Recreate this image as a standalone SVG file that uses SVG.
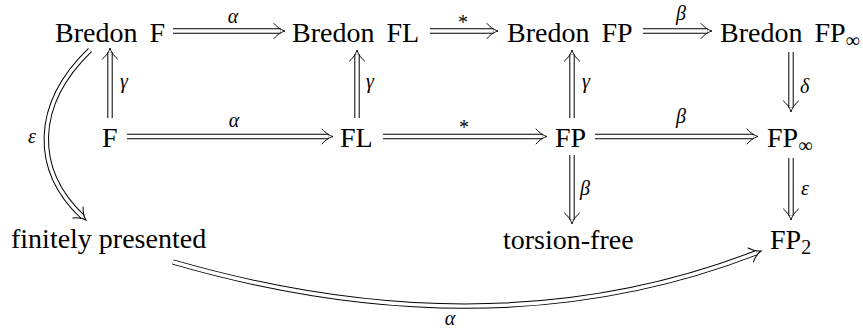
<svg xmlns="http://www.w3.org/2000/svg" xmlns:xlink="http://www.w3.org/1999/xlink" width="863" height="332" viewBox="0 0 863 332">
<style>
text { font-family: 'Liberation Serif', 'Times New Roman', serif; fill: #000; }
.n { font-size: 28px; }
.ws { word-spacing: 5px; }
.lb { font-style: italic; font-size: 20px; }
.st { font-size: 20px; }
.o { fill: none; stroke: #000; stroke-width: 5.4; }
.i { fill: none; stroke: #fff; stroke-width: 3.4; }
.h { fill: none; stroke: #000; stroke-width: 1; stroke-linecap: round; }
</style>
<defs>
<path id="hd" d="M-11,-7.5 C-7,-3 -3,-0.8 0,0 C-3,0.8 -7,3 -11,7.5"/>
</defs>
<rect width="863" height="332" fill="#fff"/>

<g id="connectors">
  <g id="e-bf-bfl">
    <path class="o" d="M173,31 H280.5"/><path class="i" d="M173,31 H280.5"/>
    <use xlink:href="#hd" class="h" transform="translate(285,31)"/>
    <text class="lb" x="233" y="23" text-anchor="middle">α</text>
  </g>
  <g id="e-bfl-bfp">
    <path class="o" d="M430,31 H493.5"/><path class="i" d="M430,31 H493.5"/>
    <use xlink:href="#hd" class="h" transform="translate(498,31)"/>
    <text class="st" x="463" y="28.5" text-anchor="middle">*</text>
  </g>
  <g id="e-bfp-bfpinf">
    <path class="o" d="M643,31 H707.5"/><path class="i" d="M643,31 H707.5"/>
    <use xlink:href="#hd" class="h" transform="translate(712,31)"/>
    <text class="lb" x="681" y="20" text-anchor="middle">β</text>
  </g>
  <g id="e-f-fl">
    <path class="o" d="M127,136.5 H328.5"/><path class="i" d="M127,136.5 H328.5"/>
    <use xlink:href="#hd" class="h" transform="translate(333,136.5)"/>
    <text class="lb" x="234" y="127" text-anchor="middle">α</text>
  </g>
  <g id="e-fl-fp">
    <path class="o" d="M383,136.5 H542.5"/><path class="i" d="M383,136.5 H542.5"/>
    <use xlink:href="#hd" class="h" transform="translate(547,136.5)"/>
    <text class="st" x="464" y="133.5" text-anchor="middle">*</text>
  </g>
  <g id="e-fp-fpinf">
    <path class="o" d="M595,136.5 H753.5"/><path class="i" d="M595,136.5 H753.5"/>
    <use xlink:href="#hd" class="h" transform="translate(758,136.5)"/>
    <text class="lb" x="681" y="123" text-anchor="middle">β</text>
  </g>
  <g id="e-f-bf">
    <path class="o" d="M110,118 V52.5"/><path class="i" d="M110,118 V52.5"/>
    <use xlink:href="#hd" class="h" transform="translate(110,48) rotate(-90)"/>
    <text class="lb" x="120" y="88">γ</text>
  </g>
  <g id="e-fl-bfl">
    <path class="o" d="M357,118 V54.5"/><path class="i" d="M357,118 V54.5"/>
    <use xlink:href="#hd" class="h" transform="translate(357,50) rotate(-90)"/>
    <text class="lb" x="366" y="88">γ</text>
  </g>
  <g id="e-fp-bfp">
    <path class="o" d="M572,118 V54.5"/><path class="i" d="M572,118 V54.5"/>
    <use xlink:href="#hd" class="h" transform="translate(572,50) rotate(-90)"/>
    <text class="lb" x="582" y="88">γ</text>
  </g>
  <g id="e-bfpinf-fpinf">
    <path class="o" d="M791,52 V107.5"/><path class="i" d="M791,52 V107.5"/>
    <use xlink:href="#hd" class="h" transform="translate(791,112) rotate(90)"/>
    <text class="lb" x="800" y="93">δ</text>
  </g>
  <g id="e-fp-tf">
    <path class="o" d="M572,155 V219.5"/><path class="i" d="M572,155 V219.5"/>
    <use xlink:href="#hd" class="h" transform="translate(572,224) rotate(90)"/>
    <text class="lb" x="580" y="195">β</text>
  </g>
  <g id="e-fpinf-fp2">
    <path class="o" d="M791,158 V215.5"/><path class="i" d="M791,158 V215.5"/>
    <use xlink:href="#hd" class="h" transform="translate(791,220) rotate(90)"/>
    <text class="lb" x="801" y="195">ε</text>
  </g>
  <g id="e-bf-fin">
    <path class="o" d="M90,50 C33,105 33,170 82.7,216.9"/><path class="i" d="M90,50 C33,105 33,170 82.7,216.9"/>
    <use xlink:href="#hd" class="h" transform="translate(86,220) rotate(43)"/>
    <text class="lb" x="28" y="143">ε</text>
  </g>
  <g id="e-fin-fp2">
    <path class="o" d="M173,262 C360,316 560,329 756.8,252.6"/><path class="i" d="M173,262 C360,316 560,329 756.8,252.6"/>
    <use xlink:href="#hd" class="h" transform="translate(761,251) rotate(-21)"/>
    <text class="lb" x="450" y="325" text-anchor="middle">α</text>
  </g>
</g>

<g id="bredon-f"><text class="n ws" x="55" y="42">Bredon F</text></g>
<g id="bredon-fl"><text class="n ws" x="292" y="42">Bredon FL</text></g>
<g id="bredon-fp"><text class="n ws" x="507" y="42">Bredon FP</text></g>
<g id="bredon-fpinf"><text class="n ws" x="720" y="42">Bredon FP<tspan font-size="20" dy="5">∞</tspan></text></g>
<g id="f"><text class="n" x="102" y="147">F</text></g>
<g id="fl"><text class="n" x="340" y="147">FL</text></g>
<g id="fp"><text class="n" x="555" y="147">FP</text></g>
<g id="fpinf"><text class="n" x="767" y="147">FP<tspan font-size="20" dy="5">∞</tspan></text></g>
<g id="finitely-presented"><text class="n" x="11" y="248">finitely presented</text></g>
<g id="torsion-free"><text class="n" x="503" y="249">torsion-free</text></g>
<g id="fp2"><text class="n" x="770" y="249">FP<tspan font-size="20" dy="5">2</tspan></text></g>
</svg>
